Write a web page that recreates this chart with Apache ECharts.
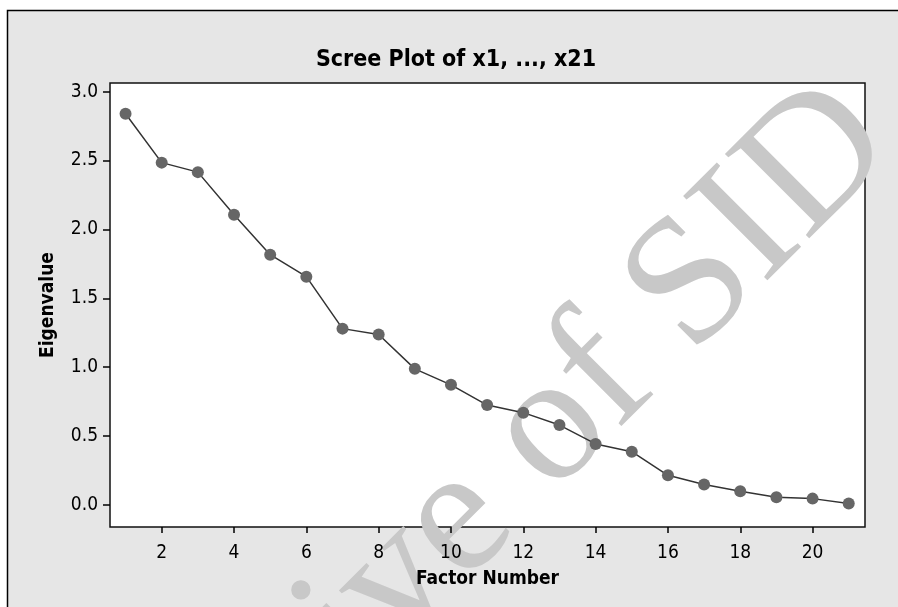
<!DOCTYPE html>
<html>
<head>
<meta charset="utf-8">
<script src="https://cdn.jsdelivr.net/npm/echarts@6/dist/echarts.min.js"></script>
<style>
  html, body { margin: 0; padding: 0; background: #fff; }
  #chart { width: 898px; height: 607px; }
</style>
</head>
<body>
<div id="chart"></div>
<script>
// 数据
const factorNumbers = [1, 2, 3, 4, 5, 6, 7, 8, 9, 10, 11, 12, 13, 14, 15, 16, 17, 18, 19, 20, 21];
const eigenvalues = [2.84, 2.485, 2.416, 2.107, 1.817, 1.657, 1.28, 1.237, 0.988, 0.872, 0.725,
  0.67, 0.58, 0.443, 0.387, 0.215, 0.148, 0.10, 0.056, 0.046, 0.01];
const xTicks = [2, 4, 6, 8, 10, 12, 14, 16, 18, 20];
const yTicks = [0, 0.5, 1.0, 1.5, 2.0, 2.5, 3.0];

const FONT = '"DejaVu Sans Condensed", "DejaVu Sans", sans-serif';

const chartDom = document.getElementById("chart");
const myChart = echarts.init(chartDom, null, { renderer: "canvas" });

const option = {
  animation: false,
  backgroundColor: "#fff",
  textStyle: { fontFamily: FONT },
  title: {
    text: "Scree Plot of x1, ..., x21",
    left: 451,
    top: 44,
    textAlign: "center",
    textStyle: { fontFamily: FONT, fontWeight: "bold", fontSize: 23, color: "#000" },
  },
  graphic: [
    {
      // 外框
      type: "rect",
      z: -10,
      shape: { x: 7.5, y: 10.5, width: 1000, height: 1000 },
      style: { fill: "#e6e6e6", stroke: "#000", lineWidth: 1.5 },
    },
    {
      // 水印
      type: "text",
      z: 1,
      x: 468,
      y: 512,
      rotation: Math.PI / 4,
      style: {
        text: "Archive of SID",
        font: '182px "Liberation Serif", "DejaVu Serif", serif',
        fill: "#c8c8c8",
        textAlign: "center",
        textVerticalAlign: "middle",
      },
    },
  ],
  grid: {
    show: true,
    z: 0,
    left: 110,
    top: 83,
    right: 33,
    bottom: 80,
    backgroundColor: "#fff",
    borderColor: "#111",
    borderWidth: 1.5,
  },
  xAxis: {
    type: "value",
    z: 3,
    min: 0.57,
    max: 21.45,
    name: "Factor Number",
    nameLocation: "middle",
    nameGap: 43,
    nameTextStyle: { fontFamily: FONT, fontWeight: "bold", fontSize: 19, color: "#000" },
    axisLine: { show: false, onZero: false },
    axisTick: { show: true, customValues: xTicks, length: 6, lineStyle: { color: "#000", width: 1.5 } },
    axisLabel: { customValues: xTicks, margin: 17, fontSize: 19, color: "#000", fontFamily: FONT },
    splitLine: { show: false },
  },
  yAxis: {
    type: "value",
    z: 3,
    min: -0.16,
    max: 3.063,
    name: "Eigenvalue",
    nameLocation: "middle",
    nameGap: 52,
    nameTextStyle: { fontFamily: FONT, fontWeight: "bold", fontSize: 19, color: "#000" },
    axisLine: { show: false, onZero: false },
    axisTick: { show: true, customValues: yTicks, length: 7, lineStyle: { color: "#000", width: 1.5 } },
    axisLabel: {
      customValues: yTicks,
      margin: 12,
      fontSize: 19,
      color: "#000",
      fontFamily: FONT,
      formatter: (v) => v.toFixed(1),
    },
    splitLine: { show: false },
  },
  series: [
    {
      type: "line",
      z: 5,
      data: factorNumbers.map((f, i) => [f, eigenvalues[i]]),
      symbol: "circle",
      symbolSize: 12,
      lineStyle: { color: "#333", width: 1.5 },
      itemStyle: { color: "#666" },
    },
  ],
};
myChart.setOption(option);
</script>
</body>
</html>
